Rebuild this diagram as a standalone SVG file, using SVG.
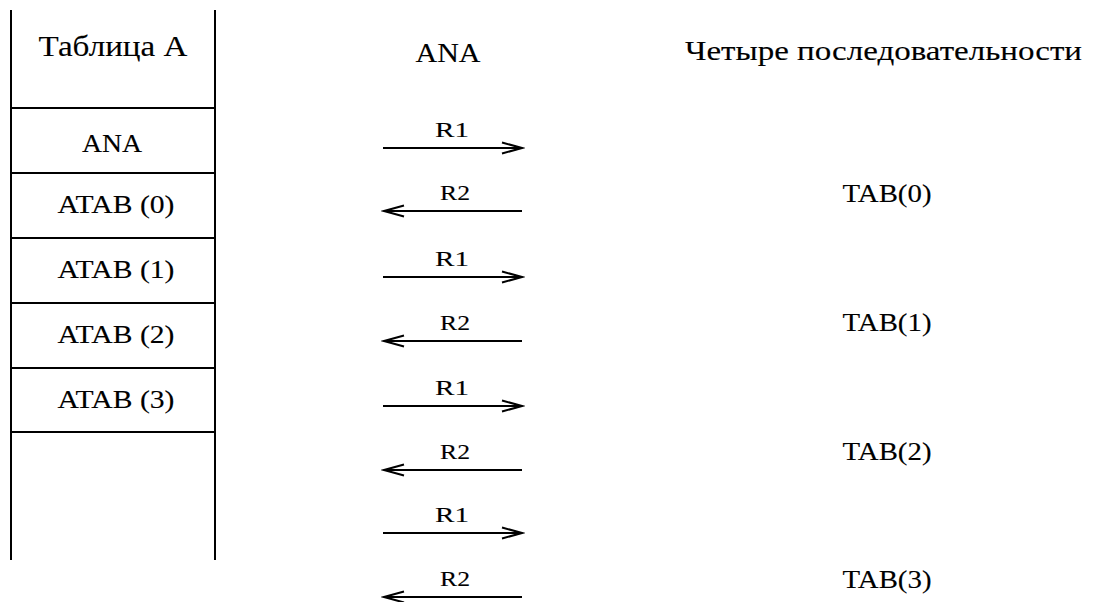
<svg xmlns="http://www.w3.org/2000/svg" width="1093" height="602" viewBox="0 0 1093 602">
<style>
text{font-family:"Liberation Serif","Times New Roman",serif;fill:#000;stroke:#000;stroke-width:0.12}
.t{font-size:25px;text-anchor:middle}
.r{font-size:21px;text-anchor:middle}
.ln{stroke:#000;stroke-width:2;fill:none}
.ar{stroke:#000;stroke-width:2;fill:none;marker-end:url(#chev)}
</style>
<defs>
<marker id="chev" markerUnits="userSpaceOnUse" markerWidth="24" markerHeight="14" refX="20" refY="6" orient="auto" viewBox="-1 -1 24 14">
<path d="M0,0.5 L20,6 L0,11.5" fill="none" stroke="#000" stroke-width="2"/>
</marker>
</defs>
<rect width="1093" height="602" fill="#fff"/>
<g id="tableA">
<line class="ln" x1="11" y1="10" x2="11" y2="560"/>
<line class="ln" x1="215" y1="10" x2="215" y2="560"/>
<line class="ln" x1="11" y1="108" x2="215" y2="108"/>
<line class="ln" x1="11" y1="173" x2="215" y2="173"/>
<line class="ln" x1="11" y1="238" x2="215" y2="238"/>
<line class="ln" x1="11" y1="303" x2="215" y2="303"/>
<line class="ln" x1="11" y1="368" x2="215" y2="368"/>
<line class="ln" x1="11" y1="432" x2="215" y2="432"/>
<text x="113" y="56" style="font-size:29px" text-anchor="middle" textLength="149" lengthAdjust="spacingAndGlyphs">Таблица А</text>
</g>
<g id="row-ana"><text class="t" x="112" y="152" textLength="60" lengthAdjust="spacingAndGlyphs">ANA</text></g>
<g id="row-atab0"><text class="t" x="116" y="213" textLength="117" lengthAdjust="spacingAndGlyphs">ATAB (0)</text></g>
<g id="row-atab1"><text class="t" x="116" y="278" textLength="117" lengthAdjust="spacingAndGlyphs">ATAB (1)</text></g>
<g id="row-atab2"><text class="t" x="116" y="343" textLength="117" lengthAdjust="spacingAndGlyphs">ATAB (2)</text></g>
<g id="row-atab3"><text class="t" x="116" y="408" textLength="117" lengthAdjust="spacingAndGlyphs">ATAB (3)</text></g>
<g id="header-ana"><text class="t" x="448" y="62" style="font-size:27px" textLength="65" lengthAdjust="spacingAndGlyphs">ANA</text></g>
<g id="header-seq"><text x="685" y="60" style="font-size:27px" textLength="397" lengthAdjust="spacingAndGlyphs">Четыре последовательности</text></g>
<g id="tab0"><text class="t" x="887" y="202" textLength="89" lengthAdjust="spacingAndGlyphs">TAB(0)</text></g>
<g id="tab1"><text class="t" x="887" y="331" textLength="89" lengthAdjust="spacingAndGlyphs">TAB(1)</text></g>
<g id="tab2"><text class="t" x="887" y="460" textLength="89" lengthAdjust="spacingAndGlyphs">TAB(2)</text></g>
<g id="tab3"><text class="t" x="887" y="588" textLength="89" lengthAdjust="spacingAndGlyphs">TAB(3)</text></g>
<g id="connectors">
<line class="ar" x1="383" y1="148" x2="522" y2="148"/>
<text class="r" x="452" y="137" textLength="34" lengthAdjust="spacingAndGlyphs">R1</text>
<line class="ar" x1="522" y1="211" x2="384" y2="211"/>
<text class="r" x="455" y="200" textLength="30" lengthAdjust="spacingAndGlyphs">R2</text>
<line class="ar" x1="383" y1="277" x2="522" y2="277"/>
<text class="r" x="452" y="266" textLength="34" lengthAdjust="spacingAndGlyphs">R1</text>
<line class="ar" x1="522" y1="341" x2="384" y2="341"/>
<text class="r" x="455" y="330" textLength="30" lengthAdjust="spacingAndGlyphs">R2</text>
<line class="ar" x1="383" y1="406" x2="522" y2="406"/>
<text class="r" x="452" y="395" textLength="34" lengthAdjust="spacingAndGlyphs">R1</text>
<line class="ar" x1="522" y1="470" x2="384" y2="470"/>
<text class="r" x="455" y="459" textLength="30" lengthAdjust="spacingAndGlyphs">R2</text>
<line class="ar" x1="383" y1="533" x2="522" y2="533"/>
<text class="r" x="452" y="522" textLength="34" lengthAdjust="spacingAndGlyphs">R1</text>
<line class="ar" x1="522" y1="597" x2="384" y2="597"/>
<text class="r" x="455" y="586" textLength="30" lengthAdjust="spacingAndGlyphs">R2</text>
</g>
</svg>
